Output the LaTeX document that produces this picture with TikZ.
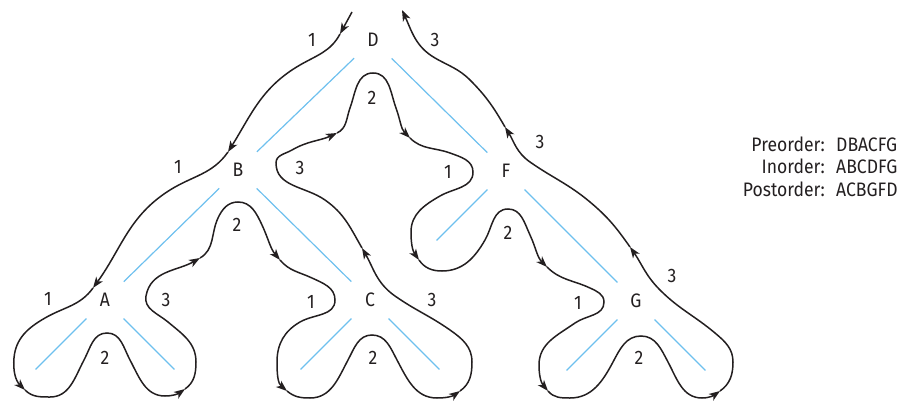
\documentclass[tikz,border=0pt]{standalone}
\usepackage{fontspec}
\setmainfont{Fira Sans}[FakeStretch=0.9]
\usepackage{xcolor}
\usepackage{tikz}
\usetikzlibrary{arrows.meta}
\definecolor{ink}{RGB}{35,31,32}
\definecolor{skyline}{RGB}{110,192,238}

\begin{document}
\begin{tikzpicture}[x=1pt,y=1pt,
  font=\fontsize{19.5}{23}\selectfont, text=ink,
  key/.style={circle,minimum size=52pt,inner sep=0pt},
  edge/.style={skyline,line width=1.2pt},
  walk/.style={ink,line width=1.5pt,-{Stealth[length=11pt,width=8pt,inset=3pt]}},
  num/.style={inner sep=1pt},
  order/.style={inner sep=0pt}]
\useasboundingbox (0,0) rectangle (916,400);
% tree
\node[key] (D) at (373,360) {D};
\node[key] (B) at (238,230) {B};
\node[key] (F) at (506,229) {F};
\node[key] (A) at (105,100) {A};
\node[key] (C) at (370,100) {C};
\node[key] (G) at (636,99) {G};
\draw[edge] (D) -- (B);
\draw[edge] (D) -- (F);
\draw[edge] (B) -- (A);
\draw[edge] (B) -- (C);
\draw[edge] (F) -- (G);
\foreach \n in {A,C,G} {
  \draw[edge] (\n.-135) -- ++(-135:72);
  \draw[edge] (\n.-45) -- ++(-45:72);
}
\draw[edge] (F.-135) -- ++(-135:72);
% visit numbers
\node[num] (d1) at (312,360) {1};
\node[num] (d2) at (372,302) {2};
\node[num] (d3) at (435,360) {3};
\node[num] (b1) at (178,233) {1};
\node[num] (b2) at (237,175) {2};
\node[num] (b3) at (300,232) {3};
\node[num] (f1) at (448,228) {1};
\node[num] (f2) at (508,167) {2};
\node[num] (f3) at (540,258) {3};
\node[num] (a1) at (48,101) {1};
\node[num] (a2) at (105,42) {2};
\node[num] (a3) at (166,100) {3};
\node[num] (c1) at (311,98) {1};
\node[num] (c2) at (373,42) {2};
\node[num] (c3) at (432,100) {3};
\node[num] (g1) at (578,97) {1};
\node[num] (g2) at (639,42) {2};
\node[num] (g3) at (672,124) {3};
% walk round the tree
\coordinate (s0) at (352,388);
\coordinate (w1) at (340,366);
\coordinate (w2) at (228,248);
\coordinate (w3) at (93,112);
\coordinate (w4) at (25,10);
\coordinate (w5) at (185,11);
\coordinate (w6) at (200,142);
\coordinate (w7) at (280,140);
\coordinate (w8) at (287,9);
\coordinate (w9) at (460,9);
\coordinate (w10) at (362,152);
\coordinate (w11) at (337,267);
\coordinate (w12) at (410,262);
\coordinate (w13) at (419,140);
\coordinate (w14) at (547,133);
\coordinate (w15) at (548,9);
\coordinate (w16) at (720,9);
\coordinate (w17) at (630,153);
\coordinate (w18) at (505,273);
\coordinate (w19) at (402,390);
\draw[walk] (s0) -- (w1);
\draw[walk] (w1) to[out=-118,in=30] (300,335) to[out=-150,in=58] (w2);
\draw[walk] (w2) to[out=-125,in=32] (170,210) to[out=-148,in=54] (w3);
\draw[walk] (w3) to[out=-126,in=30] (45,82) to[out=-150,in=85] (14,42) to[out=-95,in=135] (w4);
\draw[walk] (w4) to[out=-45,in=180] (50,3) to[out=0,in=-118] (84,40) to[out=62,in=180] (107,67) to[out=0,in=118] (130,40) to[out=-62,in=180] (165,4) to[out=0,in=-145] (w5);
\draw[walk] (w5) to[out=35,in=-90] (196,38) to[out=90,in=-40] (168,78) to[out=140,in=-100] (146,104) to[out=80,in=-150] (w6);
\draw[walk] (w6) to[out=30,in=-115] (218,182) to[out=65,in=180] (238,198) to[out=0,in=115] (262,175) to[out=-65,in=130] (w7);
\draw[walk] (w7) to[out=-50,in=155] (312,122) to[out=-25,in=90] (335,100) to[out=-90,in=30] (300,78) to[out=-150,in=90] (277,38) to[out=-90,in=140] (w8);
\draw[walk] (w8) to[out=-40,in=180] (310,2) to[out=0,in=-118] (348,40) to[out=62,in=180] (372,65) to[out=0,in=118] (397,40) to[out=-62,in=180] (437,2) to[out=0,in=-145] (w9);
\draw[walk] (w9) to[out=35,in=-90] (472,38) to[out=90,in=-35] (450,70) to[out=145,in=-35] (395,104) to[out=145,in=-60] (w10);
\draw[walk] (w10) to[out=120,in=-35] (325,200) to[out=145,in=-90] (276,237) to[out=90,in=-150] (292,250) to[out=30,in=-155] (w11);
\draw[walk] (w11) to[out=25,in=-110] (350,292) to[out=70,in=180] (373,327) to[out=0,in=110] (396,292) to[out=-70,in=135] (w12);
\draw[walk] (w12) to[out=-45,in=160] (450,247) to[out=-20,in=90] (473,228) to[out=-90,in=30] (440,204) to[out=-150,in=90] (411,168) to[out=-90,in=125] (w13);
\draw[walk] (w13) to[out=-55,in=180] (442,129) to[out=0,in=-120] (485,160) to[out=60,in=180] (508,191) to[out=0,in=115] (530,165) to[out=-65,in=135] (w14);
\draw[walk] (w14) to[out=-45,in=155] (590,112) to[out=-25,in=90] (604,98) to[out=-90,in=35] (575,77) to[out=-145,in=90] (539,35) to[out=-90,in=130] (w15);
\draw[walk] (w15) to[out=-50,in=180] (570,2) to[out=0,in=-118] (613,38) to[out=62,in=180] (641,64) to[out=0,in=118] (668,38) to[out=-62,in=180] (702,2) to[out=0,in=-145] (w16);
\draw[walk] (w16) to[out=35,in=-90] (733,38) to[out=90,in=-40] (715,67) to[out=140,in=-45] (660,110) to[out=135,in=-55] (w17);
\draw[walk] (w17) to[out=125,in=-40] (590,198) to[out=140,in=-35] (530,238) to[out=145,in=-58] (w18);
\draw[walk] (w18) to[out=120,in=-45] (470,320) to[out=135,in=-30] (435,342) to[out=150,in=-65] (w19);
% traversal orders
\node[order,anchor=base east] (preorder) at (825,249) {Preorder:};
\node[order,anchor=base west] (preseq) at (836,249) {DBACFG};
\node[order,anchor=base east] (inorder) at (825,227) {Inorder:};
\node[order,anchor=base west] (inseq) at (836,227) {ABCDFG};
\node[order,anchor=base east] (postorder) at (825,204) {Postorder:};
\node[order,anchor=base west] (postseq) at (836,204) {ACBGFD};
\end{tikzpicture}
\end{document}
